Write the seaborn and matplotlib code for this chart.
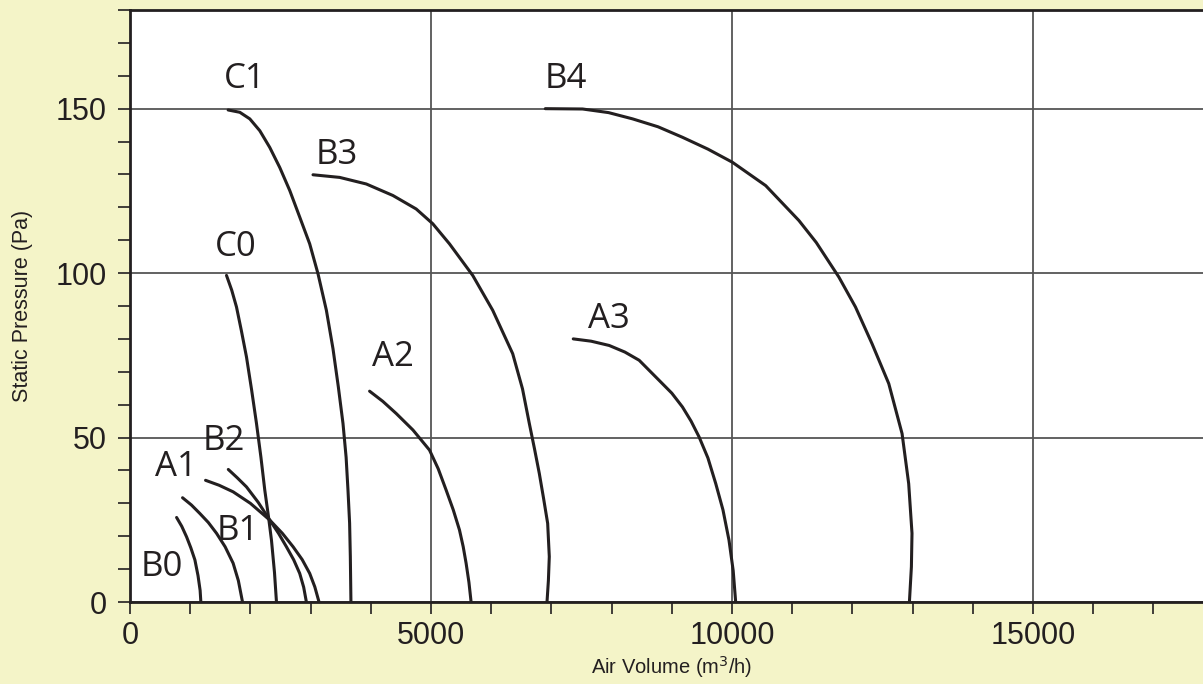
import matplotlib.pyplot as plt
import seaborn as sns
import pandas as pd
from matplotlib.ticker import MultipleLocator

sns.set_style("white")
plt.rcParams["font.family"] = ["Liberation Sans", "DejaVu Sans"]

# fan curves: air volume (m3/h) vs static pressure (Pa)
curve_names = ["B0", "B1", "A1", "B2", "C0", "C1", "A2", "B3", "A3", "B4"]
b0_x = [774, 860, 940, 1010, 1078, 1130, 1165, 1177]
b0_y = [25.7, 23.0, 19.8, 16.5, 12.8, 8.0, 3.5, 0]
b1_x = [873, 1020, 1161, 1300, 1437, 1580, 1713, 1800, 1869]
b1_y = [31.7, 29.5, 26.9, 24.2, 20.9, 16.8, 11.8, 6.5, 0]
a1_x = [1255, 1480, 1713, 2000, 2322, 2530, 2709, 2860, 2985, 3070, 3140]
a1_y = [37.0, 35.5, 33.5, 30.0, 24.9, 20.9, 16.8, 12.9, 8.7, 4.6, 0]
b2_x = [1633, 1780, 1935, 2130, 2322, 2470, 2598, 2720, 2819, 2885, 2930]
b2_y = [40.3, 37.8, 35.0, 30.3, 24.9, 20.8, 16.8, 12.8, 8.7, 4.5, 0]
c0_x = [1603, 1690, 1769, 1850, 1935, 2020, 2101, 2175, 2239, 2300, 2350, 2400, 2433]
c0_y = [99.3, 94.8, 89.7, 82.5, 74.5, 64.5, 54.3, 44.0, 34.0, 26.0, 18.8, 9.0, 0]
c1_x = [1630, 1824, 1990, 2156, 2322, 2488, 2654, 2820, 2985, 3123, 3262, 3372,
        3460, 3538, 3590, 3621, 3648, 3660, 3670]
c1_y = [149.6, 148.9, 146.9, 143.3, 138.2, 132.1, 125.1, 117.0, 108.9, 99.8, 88.7, 77.0,
        65.5, 54.3, 44.0, 34.0, 24.0, 13.8, 0]
a2_x = [3980, 4200, 4423, 4700, 4975, 5120, 5252, 5370, 5473, 5535, 5583, 5630, 5666]
a2_y = [64.1, 61.0, 57.3, 52.3, 46.2, 40.5, 34.0, 28.0, 21.9, 16.8, 11.8, 6.0, 0]
b3_x = [3040, 3483, 3925, 4367, 4754, 5030, 5307, 5693, 6025, 6357, 6520, 6633,
        6720, 6799, 6870, 6938, 6965, 6950, 6927]
b3_y = [129.9, 129.1, 127.1, 123.6, 119.5, 115.0, 108.9, 99.3, 88.7, 75.5, 64.8, 54.3,
        46.5, 39.1, 31.5, 23.9, 13.8, 6.5, 0]
a3_x = [7363, 7660, 7960, 8220, 8458, 8789, 9000, 9177, 9320, 9453, 9600,
        9730, 9850, 9950, 10020, 10061]
a3_y = [80.0, 79.3, 78.0, 76.0, 73.5, 67.4, 63.5, 59.3, 55.0, 50.2, 43.8,
        36.0, 28.0, 18.8, 9.5, 0]
b4_x = [6899, 7518, 7950, 8348, 8770, 9177, 9600, 10007, 10560, 11111, 11400, 11775,
        12051, 12327, 12604, 12825, 12935, 12990, 12980, 12947]
b4_y = [150.0, 149.9, 148.8, 146.9, 144.5, 141.3, 137.7, 133.7, 126.6, 116.0, 109.3, 98.8,
        89.7, 78.5, 66.4, 51.2, 36.0, 20.9, 10.7, 0]

label_x = [531, 1794, 764, 1561, 1761, 1910, 4370, 3437, 7960, 7240]
label_y = [10.6, 21.5, 41.0, 49.0, 108.0, 159.0, 74.4, 136.0, 86.0, 159.0]

xs = [b0_x, b1_x, a1_x, b2_x, c0_x, c1_x, a2_x, b3_x, a3_x, b4_x]
ys = [b0_y, b1_y, a1_y, b2_y, c0_y, c1_y, a2_y, b3_y, a3_y, b4_y]
rows = []
for name, cx, cy in zip(curve_names, xs, ys):
    for i, (x, y) in enumerate(zip(cx, cy)):
        rows.append({"curve": name, "order": i, "volume": x, "pressure": y})
df = pd.DataFrame(rows)

bg = "#f4f4c8"
ink = "#231f20"
fig = plt.figure(figsize=(12.03, 6.84), dpi=100, facecolor=bg)
ax = fig.add_axes([130 / 1203, 82 / 684, (1213.6 - 130) / 1203, 592 / 684])
ax.set_facecolor("white")

sns.lineplot(data=df, x="volume", y="pressure", units="curve", estimator=None,
             sort=False, color=ink, linewidth=2.2, ax=ax, zorder=3)

for name, lx, ly in zip(curve_names, label_x, label_y):
    ax.text(lx, ly, name, fontsize=25, color=ink, ha="center", va="center",
            family=["Open Sans", "DejaVu Sans"], zorder=4)

ax.set_xlim(0, 18000)
ax.set_ylim(0, 180)
ax.xaxis.set_major_locator(MultipleLocator(5000))
ax.xaxis.set_minor_locator(MultipleLocator(1000))
ax.yaxis.set_major_locator(MultipleLocator(50))
ax.yaxis.set_minor_locator(MultipleLocator(10))
ax.grid(True, which="major", color="#555555", linewidth=1.3, zorder=1)
ax.tick_params(which="both", direction="out", length=8.6, width=1.2, color=ink,
               labelsize=22, labelcolor=ink, bottom=True, left=True)
ax.tick_params(axis="x", pad=5)
ax.tick_params(axis="y", pad=8)
for side in ["left", "bottom", "top", "right"]:
    ax.spines[side].set_color(ink)
    ax.spines[side].set_linewidth(2)

ax.set_xlabel("Air Volume (m$^3$/h)", fontsize=14.5, color=ink, labelpad=2)
ax.set_ylabel("Static Pressure (Pa)", fontsize=15.5, color=ink, labelpad=16)

fig.savefig("out.png", dpi=100, facecolor=bg)
